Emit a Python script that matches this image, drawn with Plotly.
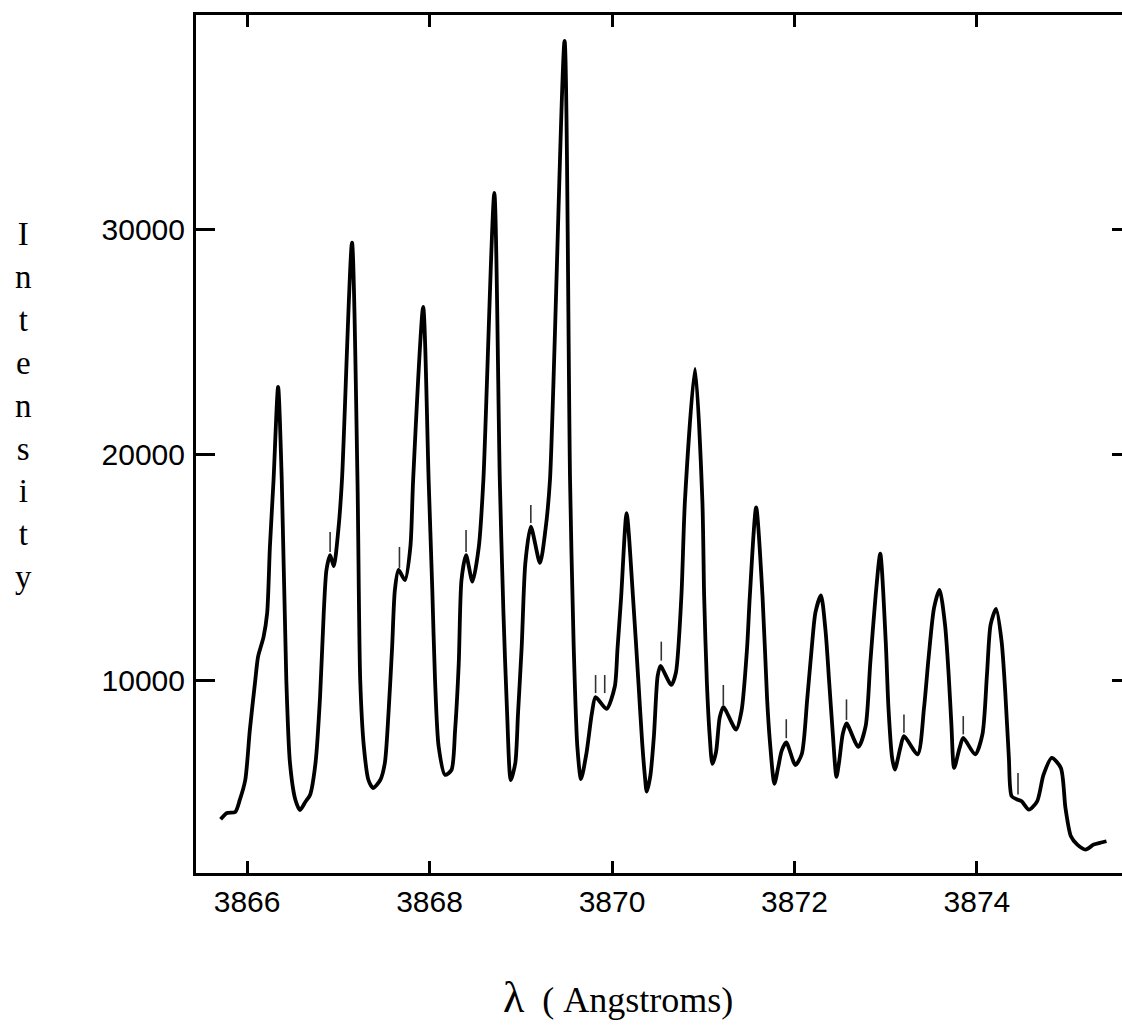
import plotly.graph_objects as go

# Spectrum trace (wavelength in Angstroms, intensity)
wavelength = [
    3865.71, 3865.78, 3865.87, 3865.92, 3865.98, 3866.03, 3866.09, 3866.12, 3866.18, 3866.22,
    3866.25, 3866.29, 3866.34, 3866.38, 3866.43, 3866.47, 3866.53, 3866.58, 3866.64, 3866.69,
    3866.75, 3866.80, 3866.84, 3866.87, 3866.91, 3866.95, 3867.00, 3867.04, 3867.15, 3867.21,
    3867.24, 3867.28, 3867.33, 3867.38, 3867.46, 3867.51, 3867.55, 3867.59, 3867.62, 3867.66,
    3867.73, 3867.79, 3867.82, 3867.93, 3867.99, 3868.03, 3868.06, 3868.10, 3868.17, 3868.24,
    3868.28, 3868.32, 3868.35, 3868.40, 3868.47, 3868.54, 3868.59, 3868.71, 3868.77, 3868.81,
    3868.85, 3868.89, 3868.94, 3868.97, 3869.01, 3869.05, 3869.11, 3869.21, 3869.27, 3869.32,
    3869.48, 3869.54, 3869.58, 3869.62, 3869.66, 3869.72, 3869.78, 3869.82, 3869.94, 3870.03,
    3870.06, 3870.10, 3870.16, 3870.23, 3870.29, 3870.33, 3870.36, 3870.38, 3870.42, 3870.46,
    3870.50, 3870.53, 3870.65, 3870.70, 3870.76, 3870.80, 3870.91, 3870.99, 3871.01, 3871.04,
    3871.07, 3871.10, 3871.14, 3871.18, 3871.22, 3871.36, 3871.42, 3871.48, 3871.51, 3871.58,
    3871.65, 3871.70, 3871.73, 3871.78, 3871.82, 3871.86, 3871.91, 3872.01, 3872.08, 3872.14,
    3872.19, 3872.23, 3872.29, 3872.34, 3872.38, 3872.42, 3872.46, 3872.49, 3872.53, 3872.57,
    3872.70, 3872.78, 3872.83, 3872.89, 3872.94, 3873.00, 3873.03, 3873.07, 3873.10, 3873.16,
    3873.20, 3873.35, 3873.42, 3873.47, 3873.53, 3873.59, 3873.65, 3873.69, 3873.72, 3873.75,
    3873.81, 3873.85, 3873.98, 3874.06, 3874.11, 3874.15, 3874.21, 3874.27, 3874.31, 3874.35,
    3874.38, 3874.44, 3874.49, 3874.57, 3874.66, 3874.73, 3874.82, 3874.92, 3874.97, 3875.03,
    3875.10, 3875.19, 3875.28, 3875.35, 3875.42,
]
intensity = [
    3820, 4100, 4150, 4680, 5565, 7780, 10000, 11030, 11900, 12970,
    15900, 18870, 23000, 18870, 10000, 6320, 4680, 4235, 4600, 4900,
    6320, 9260, 12960, 14880, 15540, 15050, 16650, 18870, 29400, 18870,
    10000, 7040, 5565, 5210, 5565, 6320, 8530, 11480, 13990, 14880,
    14430, 15910, 18870, 26540, 18870, 14000, 10000, 7040, 5790, 6010,
    7780, 10740, 14430, 15540, 14360, 15910, 18870, 31600, 18870, 12960,
    8540, 5565, 6320, 8540, 11480, 15190, 16800, 15190, 16650, 18870,
    38340, 18870, 11480, 7040, 5600, 6760, 8540, 9240, 8720, 9700,
    11380, 13680, 17400, 13680, 9870, 7260, 5750, 5050, 5750, 7560,
    10170, 10620, 9780, 10320, 13680, 18000, 23800, 18000, 13690, 9860,
    7560, 6280, 6800, 8330, 8800, 7800, 8640, 11400, 13690, 17650,
    13690, 9150, 7300, 5400, 6100, 6870, 7230, 6230, 6720, 9170,
    11460, 13000, 13750, 12200, 9930, 7620, 5700, 6390, 7620, 8070,
    7030, 7950, 10700, 13760, 15600, 11720, 8770, 6550, 6030, 6990,
    7510, 6700, 8770, 10990, 13200, 14000, 12460, 10240, 8020, 6100,
    6990, 7430, 6700, 7590, 10250, 12460, 13150, 11720, 9500, 6550,
    4850, 4700, 4620, 4250, 4620, 5800, 6550, 6100, 4330, 3070,
    2700, 2480, 2700, 2780, 2850,
]

# Small vertical marker ticks above the satellite lines
mark_wl = [3866.91, 3867.67, 3868.40, 3869.11, 3869.82, 3869.92, 3870.54, 3871.22,
           3871.91, 3872.57, 3873.20, 3873.85, 3874.45]
mark_lo = [15680, 14970, 15680, 16960, 9420, 9420, 10860, 8870,
           7420, 8230, 7660, 7590, 4920]
mark_hi = [16560, 15900, 16650, 17760, 10220, 10220, 11700, 9780,
           8260, 9140, 8470, 8400, 5880]

x_ticks = [3866, 3868, 3870, 3872, 3874]
y_ticks = [10000, 20000, 30000]
x_range = [3865.44, 3875.59]
y_range = [1441, 39490]

mx, my = [], []
for w, lo, hi in zip(mark_wl, mark_lo, mark_hi):
    mx += [w, w, None]
    my += [lo, hi, None]

fig = go.Figure()
fig.add_trace(go.Scatter(x=wavelength, y=intensity, mode="lines",
                         line=dict(color="black", width=3.8, shape="spline", smoothing=0.7),
                         showlegend=False, hoverinfo="skip"))
fig.add_trace(go.Scatter(x=mx, y=my, mode="lines",
                         line=dict(color="#333333", width=1.6),
                         showlegend=False, hoverinfo="skip"))
fig.add_trace(go.Scatter(x=[None], y=[None], yaxis="y2", mode="lines",
                         showlegend=False, hoverinfo="skip"))

tick_font = dict(family="Liberation Sans, Arial, sans-serif", size=30, color="black")

fig.update_layout(
    width=1122, height=1025,
    margin=dict(l=196, r=0, t=15, b=152),
    paper_bgcolor="white", plot_bgcolor="white",
    xaxis=dict(range=x_range, tickvals=x_ticks, ticktext=[str(v) for v in x_ticks],
               showline=True, linecolor="black", linewidth=3, mirror="ticks",
               ticks="inside", ticklen=12, tickwidth=3, tickcolor="black",
               showgrid=False, zeroline=False, tickfont=tick_font, ticklabelstandoff=0),
    yaxis=dict(range=y_range, tickvals=y_ticks, ticktext=[str(v) for v in y_ticks],
               showline=True, linecolor="black", linewidth=3, mirror=False,
               ticks="inside", ticklen=19, tickwidth=3, tickcolor="black",
               showgrid=False, zeroline=False, tickfont=tick_font, ticklabelstandoff=2),
    yaxis2=dict(range=y_range, overlaying="y", side="right", tickvals=y_ticks,
                showticklabels=False, ticks="inside", ticklen=10, tickwidth=3,
                tickcolor="black", showline=False, showgrid=False, zeroline=False),
)

fig.add_annotation(
    text="I<br>n<br>t<br>e<br>n<br>s<br>i<br>t<br>y",
    xref="paper", yref="paper", x=-0.1868, y=0.5443,
    xanchor="center", yanchor="middle", showarrow=False, align="center",
    font=dict(family="Liberation Serif, Times New Roman, serif", size=33, color="black"),
)
fig.add_annotation(
    text="<span style='font-size:44px'>λ</span>&nbsp;&nbsp;( Angstroms)",
    xref="paper", yref="paper", x=0.4557, y=-0.176,
    xanchor="center", yanchor="bottom", showarrow=False,
    font=dict(family="Liberation Serif, Times New Roman, serif", size=36, color="black"),
)

fig.write_html("out.html")
